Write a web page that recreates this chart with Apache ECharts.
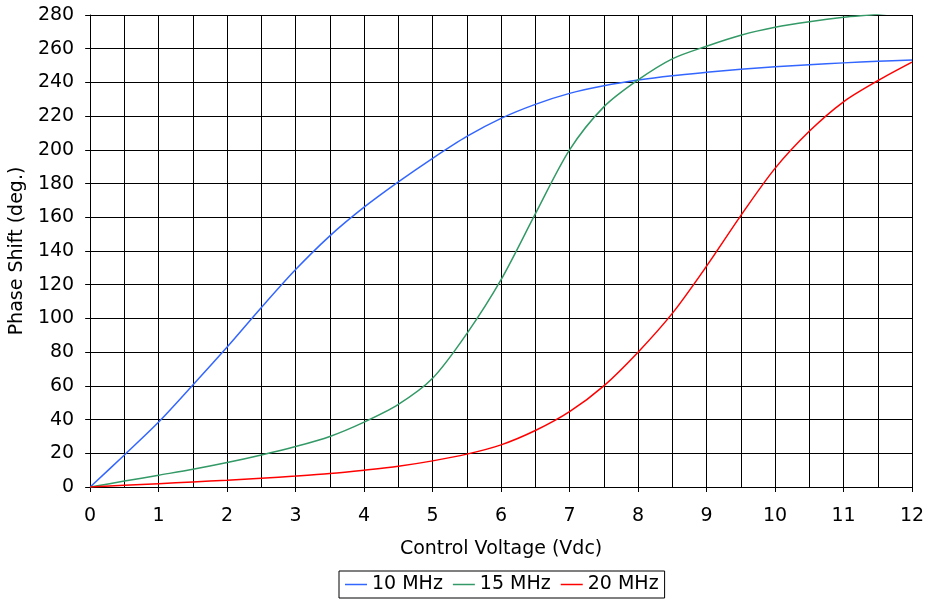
<!DOCTYPE html>
<html>
<head>
<meta charset="utf-8">
<script src="https://cdn.jsdelivr.net/npm/echarts@6/dist/echarts.min.js"></script>
<style>html,body{margin:0;padding:0;background:#fff}#c{width:928px;height:599px}</style>
</head>
<body>
<div id="c"></div>
<script>
var voltages = [0,0.5,1,1.5,2,2.5,3,3.5,4,4.5,5,5.5,6,6.5,7,7.5,8,8.5,9,9.5,10,10.5,11,11.5,12];
var seriesNames = ['10 MHz','15 MHz','20 MHz'];
var mhz10 = [0,19,38.5,60.5,83,106.5,129,149,166,181,195,208,218.7,227,233.5,238,241.4,244,246,247.8,249.3,250.5,251.6,252.5,253.3];
var mhz15 = [0,3.5,7,10.5,14.5,19,24,30,38.5,49,64.5,91,123,162,200,225.5,241.5,254,261.5,268,272.7,276,278.6,280.4,283];
var mhz20 = [0,1,2,3,4,5.2,6.5,8,10,12.3,15.5,19.5,25,33.5,44.7,60,80,103,131,161,189,211,228.5,241,252];
var yTicks = [0,20,40,60,80,100,120,140,160,180,200,220,240,260,280];

function pairs(vals){ return voltages.map(function(v,i){ return [v, vals[i]]; }); }
var colors = ['#3366FF','#339966','#FF0000'];
var font = 'DejaVu Sans, Verdana, sans-serif';
var chart = echarts.init(document.getElementById('c'), null, {renderer:'canvas'});
chart.setOption({
  animation:false,
  backgroundColor:'#fff',
  grid:{left:88,right:16,top:15,bottom:112,containLabel:false},
  legend:{
    data:seriesNames.map(function(n){ return {name:n, icon:'rect'}; }),
    top:571, left:339,
    padding:[4,6], itemGap:10, itemWidth:22, itemHeight:1.5,
    borderColor:'#000', borderWidth:1,
    textStyle:{fontFamily:font,fontSize:19,color:'#000'}
  },
  xAxis:{
    type:'value', min:0, max:12, interval:1,
    name:'Control Voltage (Vdc)', nameLocation:'middle', nameGap:53,
    nameTextStyle:{fontFamily:font,fontSize:19,color:'#000'},
    axisLine:{show:true,onZero:false,lineStyle:{color:'#000',width:1}},
    axisTick:{show:true,length:5,lineStyle:{color:'#000'}},
    axisLabel:{fontFamily:font,fontSize:19,color:'#000',margin:20},
    splitLine:{show:true,lineStyle:{color:'#000',width:1}},
    minorTick:{show:false,splitNumber:2},
    minorSplitLine:{show:true,lineStyle:{color:'#000',width:1}}
  },
  yAxis:{
    type:'value', min:0, max:280, interval:20,
    name:'Phase Shift (deg.)', nameLocation:'middle', nameGap:58,
    nameTextStyle:{fontFamily:font,fontSize:19,color:'#000'},
    axisLine:{show:true,lineStyle:{color:'#000',width:1}},
    axisTick:{show:true,length:5,lineStyle:{color:'#000'}},
    axisLabel:{fontFamily:font,fontSize:19,color:'#000',margin:16,
      formatter:function(v){ return yTicks.indexOf(v)>=0 ? String(v) : ''; }},
    splitLine:{show:true,lineStyle:{color:'#000',width:1}}
  },
  series:[mhz10,mhz15,mhz20].map(function(vals,i){
    return {
      name:seriesNames[i], type:'line', data:pairs(vals),
      smooth:0.3, symbol:'none', clip:true,
      lineStyle:{color:colors[i],width:1.5},
      itemStyle:{color:colors[i]}
    };
  })
});
</script>
</body>
</html>
